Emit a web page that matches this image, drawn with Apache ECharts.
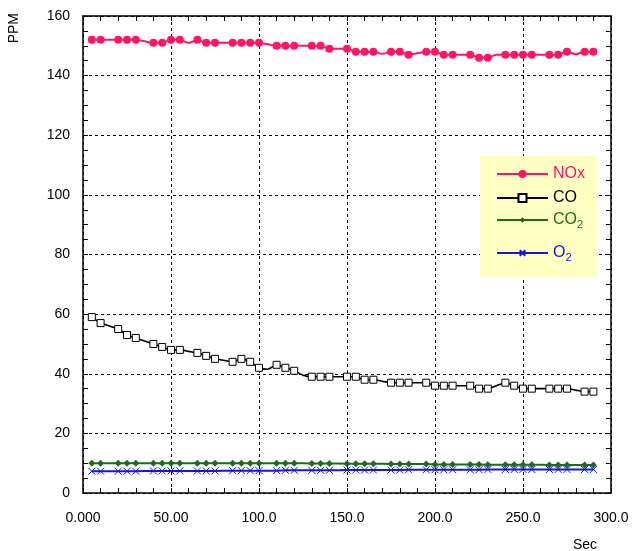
<!DOCTYPE html>
<html>
<head>
<meta charset="utf-8">
<script src="https://cdn.jsdelivr.net/npm/echarts@6/dist/echarts.min.js"></script>
<style>
  html, body { margin: 0; padding: 0; background: #fff; }
  #chart { width: 636px; height: 551px; }
</style>
</head>
<body>
<div id="chart"></div>
<script>
// time axis (sec)
const sec = [5,10,15,20,25,30,35,40,45,50,55,60,65,70,75,80,85,90,95,100,
  105,110,115,120,125,130,135,140,145,150,155,160,165,170,175,180,185,190,195,200,
  205,210,215,220,225,230,235,240,245,250,255,260,265,270,275,280,285,290];

// points drawn without a marker in the original
const noMarker = [15,35,60,80,105,125,145,170,190,215,235,260,280];

const nox = [152,152,152,152,152,152,151.5,151,151,152,152,151,152,151,151,151,151,151,151,151,
  150.5,150,150,150,150,150,150,149,149,149,148,148,148,147.3,148,148,147,147.5,148,148,
  147,147,147,147,146,146,147,147,147,147,147,147,147,147,148,147.2,148,148];

const co = [59,57,56,55,53,52,51,50,49,48,48,47.5,47,46,45,44.5,44,45,44,42,
  41.5,43,42,41,39.5,39,39,39,39,39,39,38,38,37.5,37,37,37,37,37,36,
  36,36,36,36,35,35,36,37,36,35,35,35,35,35,35,34.5,34,34];

const co2 = [10,10,10,10,10,10,10,10,10,10,10,10,10,10,10,10,10,10,10,10,
  10,10,10,10,10,9.9,9.9,9.9,9.9,9.8,9.8,9.8,9.8,9.8,9.7,9.7,9.7,9.7,9.7,9.6,
  9.6,9.6,9.6,9.6,9.6,9.5,9.5,9.5,9.5,9.5,9.5,9.5,9.4,9.4,9.4,9.4,9.4,9.4];

const o2 = [7.3,7.3,7.3,7.3,7.3,7.3,7.4,7.4,7.4,7.4,7.4,7.4,7.4,7.4,7.4,7.5,7.5,7.5,7.5,7.5,
  7.5,7.5,7.6,7.6,7.6,7.6,7.6,7.6,7.6,7.7,7.7,7.7,7.7,7.7,7.7,7.7,7.8,7.8,7.8,7.8,
  7.8,7.8,7.8,7.8,7.8,7.9,7.9,7.9,7.9,7.9,7.9,7.9,7.9,7.9,7.9,7.9,7.9,7.9];

const xTicks = [0, 300, 50];   // min, max, interval
const yTicks = [0, 160, 20];

const FONT = 'Liberation Sans';

function toData(vals) {
  return sec.map(function (s, i) {
    if (noMarker.indexOf(s) >= 0) {
      return { value: [s, vals[i]], symbol: 'none' };
    }
    return [s, vals[i]];
  });
}

const chart = echarts.init(document.getElementById('chart'));

const frameAxis = {
  type: 'value',
  axisLine: { show: true, onZero: false, lineStyle: { color: '#000', width: 1.5 } },
  axisTick: { show: true, inside: true, length: 5, lineStyle: { color: '#000' } },
  minorTick: { show: true, length: 5, lineStyle: { color: '#000' } },
  axisLabel: { show: false },
  splitLine: { show: false }
};

function legendFor(name, top, itemH, color, text) {
  return {
    left: 491, top: top, orient: 'vertical', z: 5,
    itemWidth: 51, itemHeight: itemH,
    data: [{ name: name }],
    formatter: function () { return text; },
    selectedMode: false,
    textStyle: {
      color: color, fontFamily: FONT, fontSize: 16,
      rich: {
        b: { color: color, fontFamily: FONT, fontSize: 16 },
        s: { color: color, fontFamily: FONT, fontSize: 11, padding: [10, 0, 0, 0] }
      }
    }
  };
}

const option = {
  animation: false,
  grid: { left: 83, right: 25, top: 16, bottom: 58, containLabel: false },
  graphic: [
    { type: 'rect', z: 1, shape: { x: 480, y: 156, width: 117, height: 121 },
      style: { fill: '#ffffc4' } },
    { type: 'text', left: 7, top: 13, rotation: Math.PI / 2,
      style: { text: 'PPM', fontFamily: FONT, fontSize: 14, fill: '#000' } },
    { type: 'text', left: 573, top: 538,
      style: { text: 'Sec', fontFamily: FONT, fontSize: 14, fill: '#000' } }
  ],
  legend: [
    legendFor('NOx', 161, 10, '#ff1466', '{b|NOx}'),
    legendFor('CO', 185, 10, '#000', '{b|CO}'),
    legendFor('CO2', 207, 7, '#1e6b1e', '{b|CO}{s|2}'),
    legendFor('O2', 240, 7, '#1414e6', '{b|O}{s|2}')
  ],
  xAxis: [
    Object.assign({}, frameAxis, {
      min: xTicks[0], max: xTicks[1], interval: xTicks[2],
      minorTick: { show: true, splitNumber: 5, length: 5, lineStyle: { color: '#000' } },
      axisLabel: {
        show: true, color: '#000', fontFamily: FONT, fontSize: 14, margin: 18,
        formatter: function (v) { return v.toPrecision(4); }
      },
      splitLine: { show: true, lineStyle: { color: '#000', type: [3, 3], width: 1 } }
    }),
    Object.assign({}, frameAxis, {
      position: 'top',
      min: xTicks[0], max: xTicks[1], interval: xTicks[2],
      minorTick: { show: true, splitNumber: 5, length: 5, lineStyle: { color: '#000' } }
    })
  ],
  yAxis: [
    Object.assign({}, frameAxis, {
      min: yTicks[0], max: yTicks[1], interval: yTicks[2],
      minorTick: { show: true, splitNumber: 4, length: 5, lineStyle: { color: '#000' } },
      axisLabel: { show: true, color: '#000', fontFamily: FONT, fontSize: 14, margin: 13 },
      splitLine: { show: true, lineStyle: { color: '#000', type: [3, 3], width: 1 } }
    }),
    Object.assign({}, frameAxis, {
      position: 'right',
      min: yTicks[0], max: yTicks[1], interval: yTicks[2],
      minorTick: { show: true, splitNumber: 4, length: 5, lineStyle: { color: '#000' } }
    })
  ],
  series: [
    {
      name: 'NOx', type: 'line', smooth: 0.3, data: toData(nox),
      symbol: 'circle', symbolSize: 8,
      lineStyle: { color: '#ff1466', width: 2 },
      itemStyle: { color: '#ff1466' }
    },
    {
      name: 'CO', type: 'line', smooth: 0.2, data: toData(co),
      symbol: 'rect', symbolSize: 7,
      lineStyle: { color: '#000', width: 1.6 },
      itemStyle: { color: '#fff', borderColor: '#000', borderWidth: 1 }
    },
    {
      name: 'CO2', type: 'line', data: toData(co2),
      symbol: 'diamond', symbolSize: 7,
      lineStyle: { color: '#1e6b1e', width: 2 },
      itemStyle: { color: '#1e6b1e' }
    },
    {
      name: 'O2', type: 'line', data: toData(o2),
      symbol: 'path://M0,0L10,10M10,0L0,10', symbolSize: 7,
      lineStyle: { color: '#1414e6', width: 2 },
      itemStyle: { color: 'none', borderColor: '#1414e6', borderWidth: 1 }
    }
  ]
};

chart.setOption(option);
</script>
</body>
</html>
